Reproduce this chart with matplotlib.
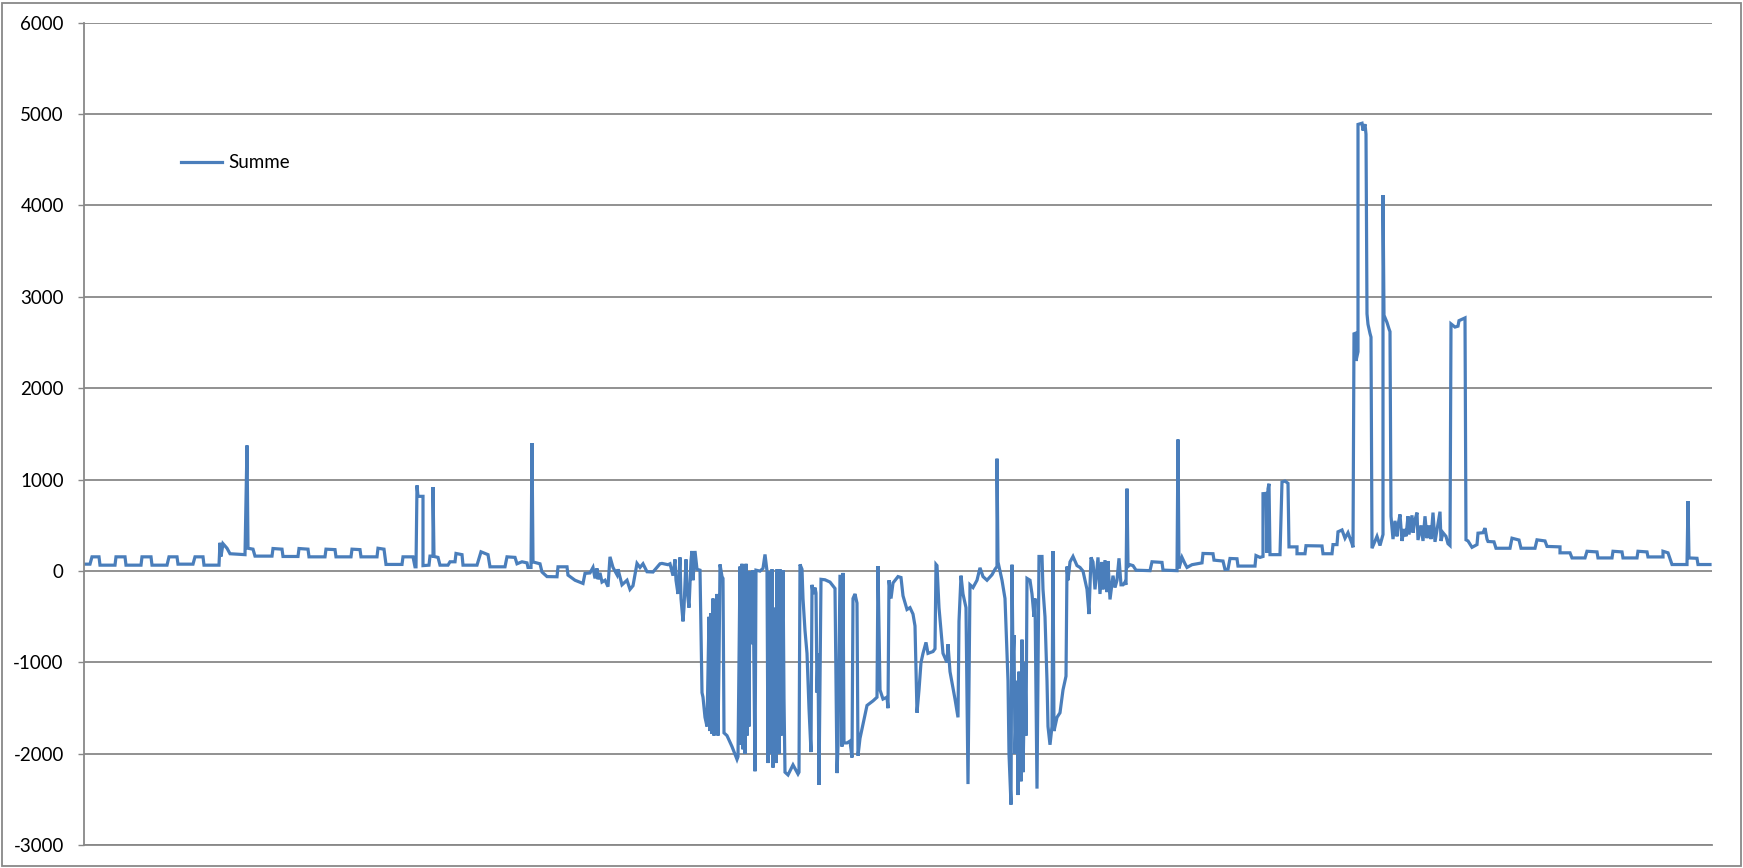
import numpy as np
import matplotlib
matplotlib.use("Agg")
import matplotlib.pyplot as plt
from matplotlib.patches import Rectangle

# Summe over the day: (sample index, value)
# night / morning
t_morning = [0, 6, 8, 15, 16, 31, 32, 41, 42, 57, 58, 67, 68, 83, 85, 93, 94, 109, 111, 119,
             120, 135, 136, 137, 139, 143, 146, 161, 163, 164, 169, 171, 188, 189, 198, 199,
             214, 215, 224, 225, 241, 242, 251, 252, 267, 268, 276, 277, 293, 294, 300, 302,
             318, 319, 329, 331, 332, 333, 334, 339, 339, 345, 346, 349, 349, 350, 354, 356,
             364, 366, 371, 372, 378, 379, 393, 394, 397, 404, 406, 421, 423, 431, 433, 438,
             443, 444, 447, 448, 449, 456, 458, 463, 473, 474, 483, 484, 491, 499, 501, 506,
             509, 511, 513, 514, 516, 518, 521, 524, 526, 529, 533, 534, 538, 543, 546, 549,
             553, 556, 559, 563, 569, 576, 578, 584]
v_morning = [76, 76, 156, 156, 65, 65, 156, 156, 65, 65, 156, 156, 65, 65, 156, 156, 76, 76, 156, 156,
             65, 65, 310, 160, 300, 250, 190, 180, 1375, 250, 240, 164, 164, 247, 240, 160,
             160, 247, 240, 156, 156, 240, 235, 156, 156, 240, 235, 156, 156, 250, 240, 73,
             73, 156, 156, 47, 47, 938, 818, 818, 60, 65, 164, 164, 920, 160, 150, 65,
             65, 102, 102, 193, 180, 65, 65, 102, 211, 180, 47, 47, 156, 150, 80, 102,
             90, 40, 40, 1400, 100, 80, -10, -60, -62, 47, 47, -44, -100, -135, -25, -20,
             40, -80, 30, -90, -20, -120, -100, -170, 156, 40, -40, 20, -150, -100, -200, -160,
             84, 40, 80, -7, -10, 80, 84, 70]

# midday (feed-in, negative)
t_midday = [586, 589, 591, 592, 594, 596, 597, 599, 600, 602, 603, 605, 607, 608, 609, 611, 613,
            616, 618, 619, 621, 623, 625, 626, 627, 628, 629, 630, 631, 632, 633, 634, 635, 636,
            638, 639, 640, 643, 648, 653, 654, 656, 657, 658, 659, 660, 661, 662, 663, 664, 665,
            666, 668, 669, 671, 672, 676, 679, 681, 683, 684, 685, 687, 688, 689, 691, 692, 693,
            695, 696, 697, 699, 700, 701, 704, 709, 713, 714, 715, 716, 718, 719, 721, 723, 725,
            727, 728, 729, 731, 732, 733, 734, 735, 737, 741, 746, 751, 753, 754, 756, 758, 759,
            760, 763, 766, 768, 769, 771, 773, 774, 776, 783, 789, 793, 794, 796, 799, 803, 804,
            805, 807, 809, 814, 817, 819, 823, 826, 829, 831, 833, 835, 837, 839, 842, 844, 849,
            851, 852, 853, 855, 859, 863, 864, 866, 871, 874, 875, 877, 879, 882, 884, 886, 889,
            893, 896, 899, 903, 908, 911, 913, 913, 914, 918, 921, 924, 925, 927, 928, 929, 930,
            931, 933, 934, 935, 937, 938, 939, 941, 942, 943, 946, 948, 950, 951, 953, 955, 958,
            959, 961, 963, 964, 966, 968, 969, 970, 973, 976, 979, 982, 983, 984, 986, 989, 993,
            996, 999, 1003, 1005, 1007, 1009, 1011, 1014, 1016, 1018, 1019, 1021, 1023, 1024,
            1026, 1029, 1031, 1033, 1035, 1037, 1039, 1041, 1042]
v_midday = [80, -50, 128, -100, -250, 150, -300, -550, -400, 128, -200, -400, 120, 220, -100, 220, 20,
            10, -1330, -1380, -1600, -1700, -500, -1750, -460, -1780, -300, -1800, -600, -1790, -250, -1800, -1000, 73,
            -60, -80, -1770, -1800, -1920, -2060, -2030, 50, -1900, 80, -1950, 0, -2000, 80, -1800, -50, -1700,
            0, -800, 10, -2190, 10, 0, 30, 182, 0, -2100, 0, -2000, 20, -2150, -400, -2100, 20,
            -2000, 20, -1800, 10, -1400, -2200, -2230, -2120, -2200, -2220, -2200, 73, 20, -300, -650, -900, -1500,
            -1980, -150, -250, -180, -240, -1330, -900, -2340, -90, -95, -120, -190, -2210, -1900, -40, -1920, -20,
            -1880, -1880, -1860, -2040, -300, -250, -350, -2020, -1830, -1470, -1420, -1380, 55, -1300, -1400, -1380, -1500,
            -100, -300, -130, -60, -70, -270, -420, -400, -470, -600, -1550, -1300, -1000, -900, -780, -900, -880,
            -850, 73, 60, -400, -900, -1000, -800, -1100, -1400, -1600, -550, -50, -250, -400, -2330, -150, -180,
            -100, 36, -60, -100, -40, 20, 50, 1230, 100, -100, -300, -1200, -2000, -2555, 70, -1000, -700,
            -2000, -1200, -2450, -1100, -2300, -750, -2200, -1000, -1800, -80, -100, -250, -500, -300, -2380, 160, 160,
            -200, -500, -1200, -1700, -1900, -1700, 219, -1750, -1600, -1550, -1300, -1150, 50, -100, 100, 160, 60,
            40, 0, -200, -470, 150, 100, -200, 150, -250, 100, -200, 120, -230, 110,
            -310, -50, -180, -100, 140, -150, -150, -120, -150]

# afternoon / evening
t_evening = [1043, 1044, 1046, 1049, 1052, 1066, 1068, 1078, 1079, 1093, 1094, 1095, 1098, 1101, 1103,
             1108, 1118, 1119, 1129, 1130, 1139, 1141, 1144, 1146, 1153, 1154, 1171, 1172, 1176, 1179,
             1179, 1182, 1183, 1184, 1185, 1186, 1196, 1198, 1201, 1204, 1205, 1213, 1213, 1221, 1222,
             1238, 1239, 1248, 1249, 1253, 1254, 1258, 1261, 1264, 1268, 1269, 1270, 1271, 1272, 1274,
             1274, 1278, 1279, 1281, 1282, 1283, 1284, 1286, 1287, 1288, 1293, 1296, 1299, 1299, 1300,
             1303, 1305, 1306, 1307, 1309, 1311, 1313, 1314, 1316, 1318, 1320, 1322, 1324, 1325, 1328,
             1329, 1331, 1333, 1334, 1337, 1339, 1341, 1343, 1345, 1347, 1349, 1351, 1353, 1356, 1357,
             1359, 1362, 1364, 1366, 1367, 1371, 1374, 1375, 1379, 1381, 1382, 1384, 1388, 1393, 1394,
             1399, 1401, 1403, 1404, 1410, 1412, 1426, 1428, 1435, 1437, 1451, 1453, 1461, 1463, 1476,
             1476, 1486, 1488, 1501, 1503, 1513, 1514, 1528, 1529, 1538, 1539, 1553, 1554, 1563, 1564,
             1579, 1579, 1584, 1588, 1603, 1604, 1605, 1613, 1614, 1626]
v_evening = [902, 50, 70, 60, 10, 5, 102, 95, 11, 5, 1440, 30, 150, 80, 40,
             70, 90, 193, 190, 120, 110, 18, 20, 138, 135, 55, 55, 170, 150, 160,
             847, 850, 200, 900, 956, 180, 180, 975, 985, 960, 265, 265, 190, 190, 278,
             275, 190, 190, 290, 290, 430, 450, 360, 420, 300, 260, 2596, 2600, 2300, 2400,
             4887, 4900, 4820, 4890, 4780, 2815, 2700, 2600, 2560, 250, 380, 280, 400, 4113, 2800,
             2720, 2650, 2620, 600, 350, 550, 380, 500, 620, 330, 460, 380, 600, 400, 610,
             420, 560, 640, 340, 500, 330, 600, 360, 500, 350, 640, 320, 450, 650, 330,
             420, 380, 300, 280, 2705, 2670, 2680, 2740, 2760, 2770, 342, 330, 260, 290, 415,
             420, 470, 350, 324, 320, 250, 250, 360, 340, 250, 250, 342, 330, 270, 265,
             200, 200, 144, 144, 217, 210, 144, 144, 217, 210, 144, 144, 217, 210, 155,
             155, 217, 200, 72, 72, 765, 144, 140, 72, 72]

t = np.array(t_morning + t_midday + t_evening)
summe = np.array(v_morning + v_midday + v_evening)

W, H = 1743, 868
plt.rcParams['font.family'] = ['Lato', 'DejaVu Sans']
plt.rcParams['axes.unicode_minus'] = False
fig = plt.figure(figsize=(W / 100, H / 100), dpi=100)

# plot area in pixels
left, right, top, bottom = 84, 1712, 22.7, 845.3
ax = fig.add_axes([left / W, 1 - bottom / H, (right - left) / W, (bottom - top) / H])

grid_col = '#888888'
ax.plot(t, summe, color='#4a7ebb', lw=2.3, label='Summe', solid_joinstyle='miter')

ax.set_xlim(0, right - left)
ax.set_ylim(-3000, 6000)
ax.set_yticks(np.arange(-3000, 6001, 1000))
ax.set_xticks([])
ax.grid(axis='y', color=grid_col, lw=1.3)
ax.set_axisbelow(True)

for s in ['top', 'right']:
    ax.spines[s].set_visible(False)
ax.spines['left'].set_color(grid_col)
ax.spines['left'].set_linewidth(1.3)
ax.spines['bottom'].set_color(grid_col)
ax.spines['bottom'].set_linewidth(1.3)
ax.tick_params(axis='y', direction='out', length=4.5, width=1.0, color=grid_col,
               labelsize=13.5, pad=10, labelcolor='black')

leg = ax.legend(loc='center left', bbox_to_anchor=(181 / W, 1 - 162.7 / H),
                bbox_transform=fig.transFigure, frameon=False, fontsize=13.5,
                handlelength=2.2, handletextpad=0.3, borderpad=0, borderaxespad=0)

# outer chart border
fig.patches.append(Rectangle((1.5 / W, 2 / H), (W - 4) / W, (H - 4.5) / H,
                             transform=fig.transFigure, fill=False,
                             edgecolor=grid_col, lw=1.3))

fig.savefig('out.png', dpi=100)
